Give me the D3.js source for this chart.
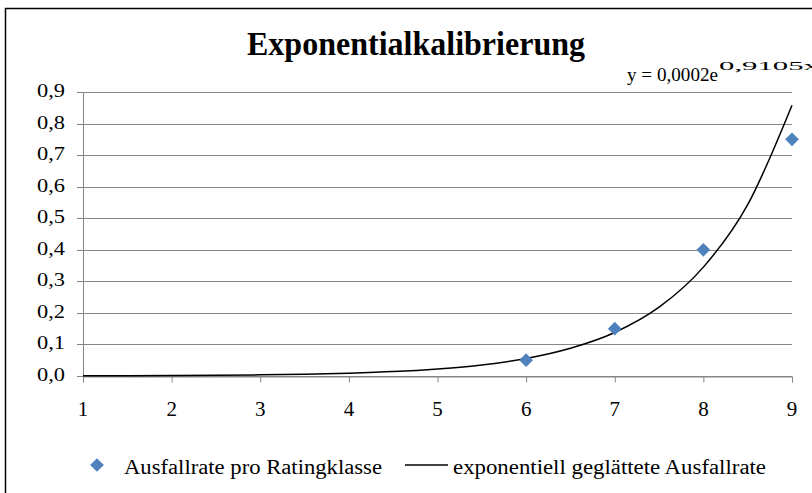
<!DOCTYPE html>
<html><head><meta charset="utf-8">
<script src="https://cdn.jsdelivr.net/npm/d3@7"></script>
<style>body{margin:0;background:#fff}svg{display:block}</style>
</head><body>
<svg id="c" width="812" height="493"></svg>
<script>
const ratingClasses = [6, 7, 8, 9];
const defaultRates = [0.05, 0.15, 0.40, 0.75];
const trendX = [1, 1.5, 2, 2.5, 3, 3.5, 4, 4.5, 5, 5.5, 6, 6.5, 7, 7.5, 8, 8.5, 9];
const trendY = [0.0006, 0.0009, 0.0015, 0.0023, 0.0036, 0.0057, 0.009, 0.014, 0.0224, 0.035, 0.0557, 0.088, 0.138, 0.218, 0.345, 0.543, 0.858];
const yTicks = [0, 0.1, 0.2, 0.3, 0.4, 0.5, 0.6, 0.7, 0.8, 0.9];
const xTicks = [1, 2, 3, 4, 5, 6, 7, 8, 9];
const title = "Exponentialkalibrierung";
const seriesNames = ["Ausfallrate pro Ratingklasse", "exponentiell geglättete Ausfallrate"];

const svg = d3.select("#c");
const font = "'Liberation Serif','Times New Roman',serif";
svg.append("rect").attr("x",5.5).attr("y",8.5).attr("width",820).attr("height",500)
  .attr("fill","#fff").attr("stroke","#000").attr("stroke-width",1.5);

const x = d3.scaleLinear().domain([1,9]).range([83,792]);
const y = d3.scaleLinear().domain([0,0.9]).range([376,92]);

// gridlines
svg.append("g").selectAll("line").data(yTicks).join("line")
  .attr("x1",77).attr("x2",792).attr("y1",d=>Math.round(y(d))+0.5).attr("y2",d=>Math.round(y(d))+0.5)
  .attr("stroke","#868686").attr("stroke-width",1);
// y axis line
svg.append("line").attr("x1",83.5).attr("x2",83.5).attr("y1",y(0.9)).attr("y2",y(0))
  .attr("stroke","#868686");
// y labels
svg.append("g").selectAll("text").data(yTicks).join("text")
  .attr("x",65).attr("y",d=>y(d)+5).attr("text-anchor","end")
  .attr("font-family",font).attr("font-size",19).attr("fill","#000")
  .attr("textLength",28).attr("lengthAdjust","spacingAndGlyphs")
  .text(d=>d3.format(".1f")(d).replace(".",","));
// x axis
const xAxis = d3.axisBottom(x).tickValues(xTicks).tickSize(6).tickFormat("");
const gx = svg.append("g").attr("transform",`translate(0,${Math.round(y(0))+0.5})`).call(xAxis);
gx.select(".domain").attr("stroke","#868686");
gx.selectAll(".tick line").attr("stroke","#868686");
svg.append("g").selectAll("text").data(xTicks).join("text")
  .attr("x",d=>x(d)).attr("y",416).attr("text-anchor","middle")
  .attr("font-family",font).attr("font-size",21).attr("fill","#000").text(d=>d);

// trendline
const line = d3.line().x((d,i)=>x(trendX[i])).y(d=>y(d)).curve(d3.curveMonotoneX);
svg.append("path").datum(trendY).attr("d",line).attr("fill","none").attr("stroke","#000").attr("stroke-width",1.5);

// points
const diamond = d3.symbol().type(d3.symbolDiamond2).size(120);
svg.append("g").selectAll("path").data(ratingClasses).join("path")
  .attr("transform",(d,i)=>`translate(${x(d)},${y(defaultRates[i])})`)
  .attr("d",diamond).attr("fill","#4F81BD");

// title
svg.append("text").attr("x",416).attr("y",55).attr("text-anchor","middle")
  .attr("font-family",font).attr("font-size",33).attr("font-weight","bold")
  .attr("textLength",338).attr("lengthAdjust","spacingAndGlyphs").text(title);

// equation
svg.append("text").attr("x",627).attr("y",81).attr("font-family",font).attr("font-size",19)
  .attr("textLength",91).attr("lengthAdjust","spacingAndGlyphs").text("y = 0,0002e");
svg.append("text").attr("x",719).attr("y",70).attr("font-family",font).attr("font-size",13)
  .attr("textLength",100).attr("lengthAdjust","spacingAndGlyphs").text("0,9105x");

// legend
svg.append("path").attr("transform","translate(97,465)").attr("d",diamond).attr("fill","#4F81BD");
svg.append("text").attr("x",124).attr("y",474).attr("font-family",font).attr("font-size",20)
  .attr("textLength",258).attr("lengthAdjust","spacingAndGlyphs").text(seriesNames[0]);
svg.append("line").attr("x1",405).attr("x2",448).attr("y1",465).attr("y2",465).attr("stroke","#000").attr("stroke-width",1.5);
svg.append("text").attr("x",453).attr("y",474).attr("font-family",font).attr("font-size",20)
  .attr("textLength",313).attr("lengthAdjust","spacingAndGlyphs").text(seriesNames[1]);
</script>
</body></html>
